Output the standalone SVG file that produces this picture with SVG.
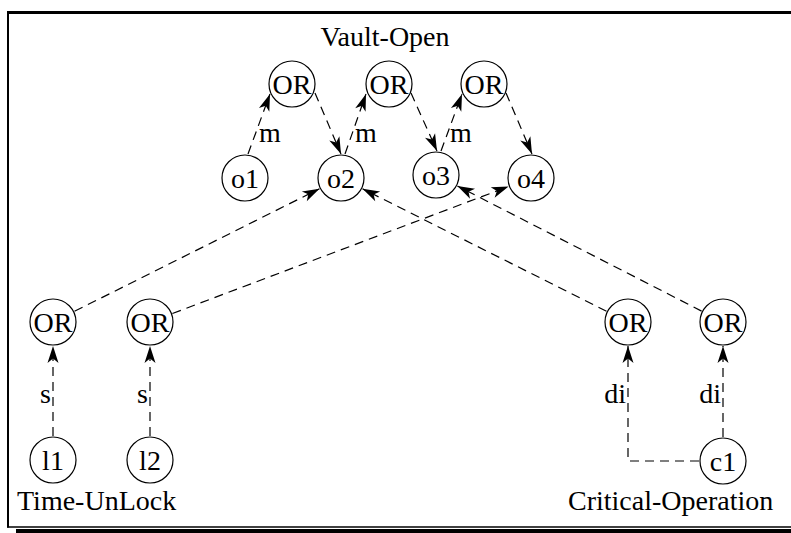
<svg xmlns="http://www.w3.org/2000/svg" width="791" height="533" viewBox="0 0 791 533">
  <style>
    .node { fill: #fff; stroke: #000; stroke-width: 1.2; }
    .lbl { font-family: "Liberation Serif", "Times New Roman", serif; font-size: 28px; fill: #000; }
    .c { text-anchor: middle; }
    .e { text-anchor: end; }
    .edge { fill: none; stroke: #000; stroke-width: 1.2; stroke-dasharray: 9 6; marker-end: url(#head); }
    .frame { stroke: #000; fill: none; }
  </style>
  <defs>
    <marker id="head" markerUnits="userSpaceOnUse" markerWidth="22" markerHeight="14" viewBox="-18 -7 19 14" refX="0" refY="0" orient="auto">
      <path d="M0,0 L-17,-5.5 L-12.5,0 L-17,5.5 Z" fill="#000"/>
    </marker>
  </defs>
  <rect width="791" height="533" fill="#fff"/>

  <!-- frame -->
  <g id="frame">
    <line class="frame" x1="7" y1="12.5" x2="791" y2="12.5" stroke-width="3"/>
    <line class="frame" x1="8" y1="11" x2="8" y2="527.5" stroke-width="2"/>
    <line class="frame" x1="7" y1="527" x2="791" y2="527" stroke-width="1.5"/>
    <rect x="16" y="529" width="775" height="4" fill="#000"/>
  </g>

  <!-- connectors -->
  <g id="connectors">
    <path class="edge" d="M248,154 L270,94"/>
    <path class="edge" d="M315,93 L341,154"/>
    <path class="edge" d="M345,154 L366,94"/>
    <path class="edge" d="M411,93 L437,151"/>
    <path class="edge" d="M441,151 L462,94"/>
    <path class="edge" d="M506,93 L532,154"/>
    <path class="edge" d="M74.5,311.3 L319.5,188.7"/>
    <path class="edge" d="M172.4,313.5 L508.6,186.5"/>
    <path class="edge" d="M606.5,311.2 L362.5,188.8"/>
    <path class="edge" d="M701.6,311.1 L457.4,186"/>
    <path class="edge" d="M53,436 L53,346"/>
    <path class="edge" d="M150,436 L150,346"/>
    <path class="edge" d="M699,461 L628,461 L628,346"/>
    <path class="edge" d="M723,437 L723,346"/>
    <text class="lbl" x="259" y="142">m</text>
    <text class="lbl" x="355" y="142">m</text>
    <text class="lbl" x="450" y="142">m</text>
    <text class="lbl e" x="51" y="403">s</text>
    <text class="lbl e" x="148" y="403">s</text>
    <text class="lbl e" x="626" y="403">di</text>
    <text class="lbl e" x="721" y="403">di</text>
  </g>

  <text class="lbl c" x="385" y="46">Vault-Open</text>
  <text class="lbl" x="17" y="510">Time-UnLock</text>
  <text class="lbl" x="568" y="510">Critical-Operation</text>

  <g id="or1"><circle class="node" cx="292" cy="84" r="23"/><text class="lbl c" x="292" y="94">OR</text></g>
  <g id="or2"><circle class="node" cx="389" cy="84" r="23"/><text class="lbl c" x="389" y="94">OR</text></g>
  <g id="or3"><circle class="node" cx="484" cy="84" r="23"/><text class="lbl c" x="484" y="94">OR</text></g>
  <g id="o1"><circle class="node" cx="245" cy="178" r="23"/><text class="lbl c" x="245" y="188">o1</text></g>
  <g id="o2"><circle class="node" cx="341" cy="178" r="23"/><text class="lbl c" x="341" y="188">o2</text></g>
  <g id="o3"><circle class="node" cx="436" cy="175" r="23"/><text class="lbl c" x="436" y="185">o3</text></g>
  <g id="o4"><circle class="node" cx="531" cy="178" r="23"/><text class="lbl c" x="531" y="188">o4</text></g>
  <g id="or-l1"><circle class="node" cx="53" cy="322" r="23"/><text class="lbl c" x="53" y="332">OR</text></g>
  <g id="or-l2"><circle class="node" cx="150" cy="322" r="23"/><text class="lbl c" x="150" y="332">OR</text></g>
  <g id="or-c1"><circle class="node" cx="628" cy="322" r="23"/><text class="lbl c" x="628" y="332">OR</text></g>
  <g id="or-c2"><circle class="node" cx="723" cy="322" r="23"/><text class="lbl c" x="723" y="332">OR</text></g>
  <g id="l1"><circle class="node" cx="53" cy="460" r="23"/><text class="lbl c" x="53" y="470">l1</text></g>
  <g id="l2"><circle class="node" cx="150" cy="460" r="23"/><text class="lbl c" x="150" y="470">l2</text></g>
  <g id="c1"><circle class="node" cx="723" cy="461" r="23"/><text class="lbl c" x="723" y="471">c1</text></g>
</svg>
